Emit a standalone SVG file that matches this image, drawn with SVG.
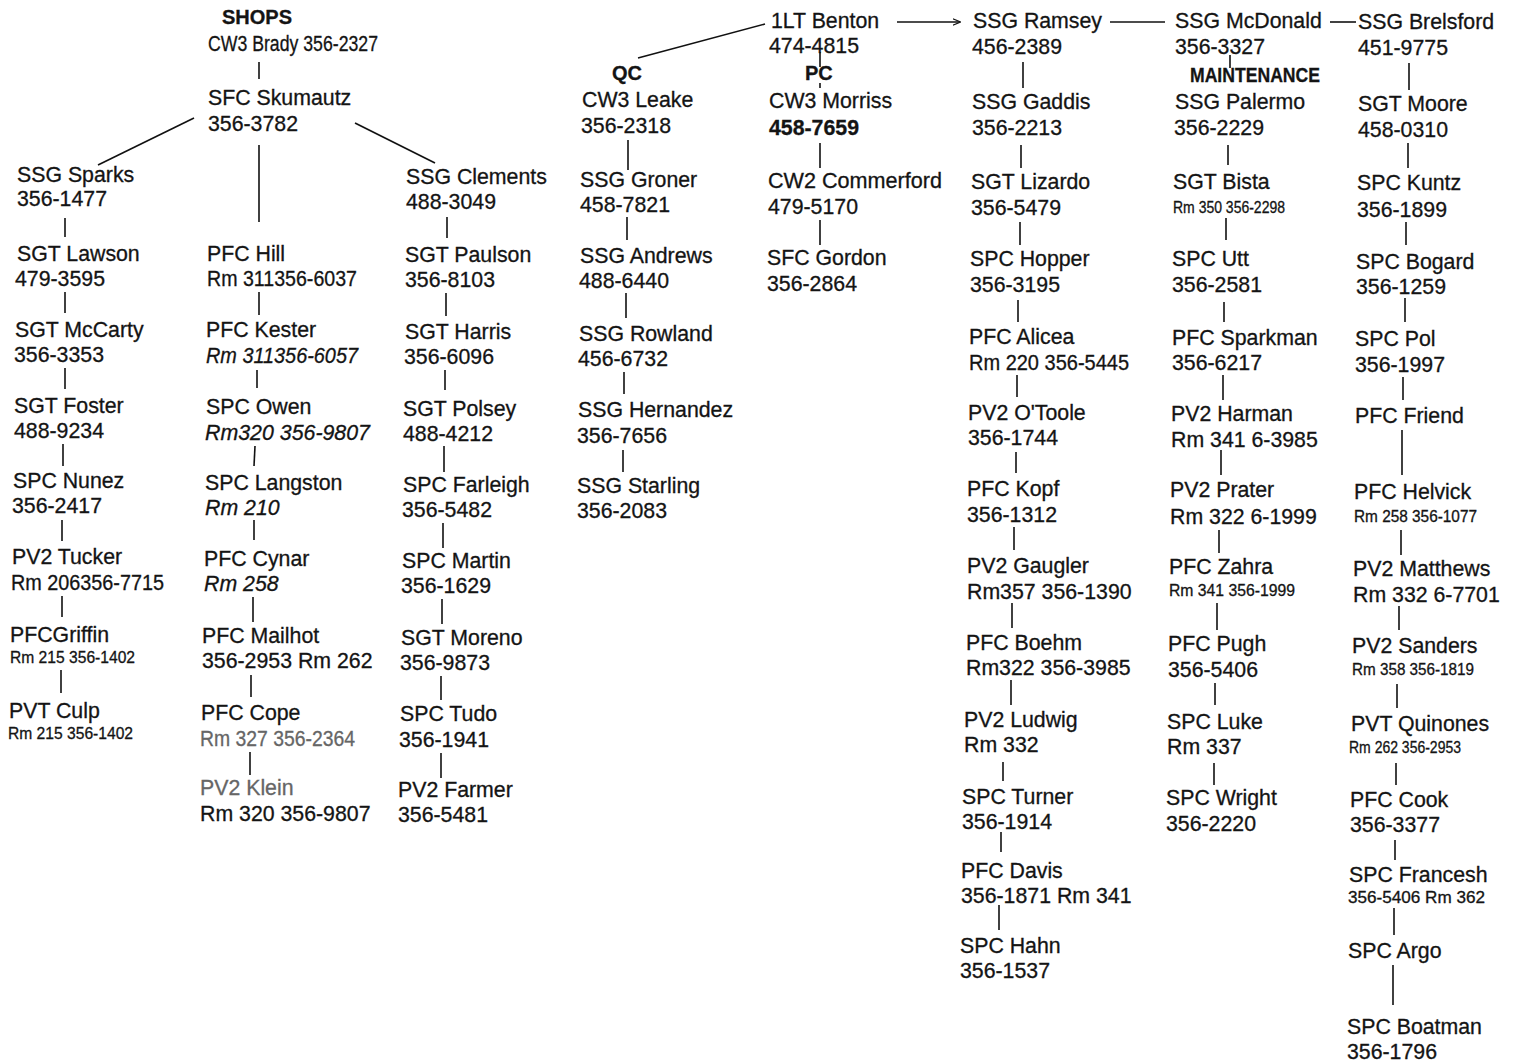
<svg xmlns="http://www.w3.org/2000/svg" width="1515" height="1063" viewBox="0 0 1515 1063">
<style>
text{font-family:"Liberation Sans",Arial,sans-serif;font-size:21.3px;fill:#141414;stroke:#141414;stroke-width:0.3}
.b{font-weight:bold;font-size:20px}
.i{font-style:italic}
.s{font-size:16px}
.g{fill:#666;stroke:#666}
.c line,.c path{stroke:#111;stroke-width:1.6;fill:none}
</style>
<defs>
<marker id="ah" viewBox="0 0 10 10" refX="9" refY="5" markerWidth="8" markerHeight="8" orient="auto" markerUnits="userSpaceOnUse">
<path d="M0,1 L10,5 L0,9" fill="none" stroke="#111" stroke-width="1.6"/>
</marker>
</defs>
<rect width="1515" height="1063" fill="#fff"/>
<g class="c" id="connectors">
<line x1="259" y1="62" x2="259" y2="79" stroke-width="2.4"/>
<line x1="194" y1="118" x2="98" y2="165"/>
<line x1="355" y1="123" x2="435" y2="163"/>
<line x1="259" y1="145" x2="259" y2="222"/>
<line x1="65" y1="218" x2="65" y2="237"/>
<line x1="65" y1="292" x2="65" y2="313"/>
<line x1="65" y1="368" x2="65" y2="389"/>
<line x1="63" y1="444" x2="63" y2="466"/>
<line x1="62" y1="520" x2="62" y2="541"/>
<line x1="62" y1="596" x2="62" y2="617"/>
<line x1="61" y1="670" x2="61" y2="693"/>
<line x1="259" y1="292" x2="259" y2="315"/>
<line x1="257" y1="370" x2="257" y2="388"/>
<line x1="255" y1="446" x2="254" y2="466"/>
<line x1="254" y1="520" x2="254" y2="540"/>
<line x1="253" y1="597" x2="253" y2="622"/>
<line x1="251" y1="675" x2="251" y2="697"/>
<line x1="250" y1="752" x2="250" y2="775"/>
<line x1="447" y1="217" x2="447" y2="238"/>
<line x1="446" y1="293" x2="446" y2="316"/>
<line x1="445" y1="370" x2="445" y2="390"/>
<line x1="444" y1="446" x2="444" y2="472"/>
<line x1="443" y1="523" x2="443" y2="548"/>
<line x1="442" y1="599" x2="442" y2="624"/>
<line x1="441" y1="676" x2="441" y2="700"/>
<line x1="441" y1="753" x2="441" y2="778"/>
<line x1="765" y1="24" x2="638" y2="58" stroke-width="2.2"/>
<line x1="628" y1="140" x2="628" y2="170"/>
<line x1="627" y1="217" x2="627" y2="240"/>
<line x1="626" y1="293" x2="626" y2="318"/>
<line x1="624" y1="372" x2="624" y2="394"/>
<line x1="623" y1="450" x2="623" y2="472"/>
<line x1="820" y1="52" x2="820" y2="67"/>
<line x1="820" y1="83" x2="820" y2="88"/>
<line x1="820" y1="143" x2="820" y2="168" stroke-width="2.2"/>
<line x1="820" y1="220" x2="820" y2="245"/>
<line x1="897" y1="22" x2="960" y2="22" marker-end="url(#ah)"/>
<line x1="1110" y1="22" x2="1165" y2="22"/>
<line x1="1330" y1="22" x2="1356" y2="22"/>
<line x1="1023" y1="62" x2="1023" y2="88"/>
<line x1="1021" y1="145" x2="1021" y2="168"/>
<line x1="1020" y1="222" x2="1020" y2="245"/>
<line x1="1018" y1="300" x2="1018" y2="322"/>
<line x1="1017" y1="375" x2="1017" y2="397"/>
<line x1="1016" y1="452" x2="1016" y2="473"/>
<line x1="1014" y1="527" x2="1014" y2="550"/>
<line x1="1012" y1="603" x2="1012" y2="628"/>
<line x1="1011" y1="680" x2="1011" y2="705"/>
<line x1="1003" y1="762" x2="1003" y2="781"/>
<line x1="1001" y1="832" x2="1001" y2="852"/>
<line x1="999" y1="905" x2="999" y2="930"/>
<line x1="1230" y1="55" x2="1230" y2="68"/>
<line x1="1228" y1="145" x2="1228" y2="165"/>
<line x1="1226" y1="218" x2="1226" y2="240"/>
<line x1="1224" y1="302" x2="1224" y2="322"/>
<line x1="1223" y1="375" x2="1223" y2="400"/>
<line x1="1221" y1="450" x2="1221" y2="475"/>
<line x1="1219" y1="530" x2="1219" y2="553"/>
<line x1="1217" y1="603" x2="1217" y2="630"/>
<line x1="1215" y1="683" x2="1215" y2="705"/>
<line x1="1214" y1="763" x2="1214" y2="785"/>
<line x1="1409" y1="63" x2="1409" y2="90"/>
<line x1="1408" y1="143" x2="1408" y2="168"/>
<line x1="1406" y1="222" x2="1406" y2="245"/>
<line x1="1405" y1="298" x2="1405" y2="322"/>
<line x1="1403" y1="377" x2="1403" y2="400"/>
<line x1="1402" y1="430" x2="1402" y2="475"/>
<line x1="1401" y1="530" x2="1401" y2="555"/>
<line x1="1399" y1="606" x2="1399" y2="630"/>
<line x1="1397" y1="684" x2="1397" y2="708"/>
<line x1="1396" y1="763" x2="1396" y2="785"/>
<line x1="1395" y1="840" x2="1395" y2="860"/>
<line x1="1394" y1="908" x2="1394" y2="935"/>
<line x1="1393" y1="965" x2="1393" y2="1005"/>
</g>
<g id="labels">
<text class="b" x="222" y="24">SHOPS</text>
<text class="b" x="612" y="80">QC</text>
<text class="b" x="805" y="80">PC</text>
<text class="b" x="1190" y="82" textLength="130" lengthAdjust="spacingAndGlyphs">MAINTENANCE</text>
</g>
<g id="n-brady"><text x="208" y="51" textLength="170" lengthAdjust="spacingAndGlyphs">CW3 Brady 356-2327</text></g>
<g id="n-skumautz"><text x="208" y="105">SFC Skumautz</text><text x="208" y="131">356-3782</text></g>
<g id="n-sparks"><text x="17" y="182">SSG Sparks</text><text x="17" y="206">356-1477</text></g>
<g id="n-lawson"><text x="17" y="261">SGT Lawson</text><text x="15" y="286">479-3595</text></g>
<g id="n-mccarty"><text x="15" y="337">SGT McCarty</text><text x="14" y="362">356-3353</text></g>
<g id="n-foster"><text x="14" y="413">SGT Foster</text><text x="14" y="438">488-9234</text></g>
<g id="n-nunez"><text x="13" y="488">SPC Nunez</text><text x="12" y="513">356-2417</text></g>
<g id="n-tucker"><text x="12" y="564">PV2 Tucker</text><text x="11" y="590" textLength="153" lengthAdjust="spacingAndGlyphs">Rm 206356-7715</text></g>
<g id="n-griffin"><text x="10" y="642">PFCGriffin</text><text class="s" x="10" y="663" textLength="125" lengthAdjust="spacingAndGlyphs">Rm 215 356-1402</text></g>
<g id="n-culp"><text x="9" y="718">PVT Culp</text><text class="s" x="8" y="739" textLength="125" lengthAdjust="spacingAndGlyphs">Rm 215 356-1402</text></g>
<g id="n-hill"><text x="207" y="261">PFC Hill</text><text x="207" y="286" textLength="150" lengthAdjust="spacingAndGlyphs">Rm 311356-6037</text></g>
<g id="n-kester"><text x="206" y="337">PFC Kester</text><text class="i" x="206" y="363" textLength="152" lengthAdjust="spacingAndGlyphs">Rm 311356-6057</text></g>
<g id="n-owen"><text x="206" y="414">SPC Owen</text><text class="i" x="205" y="440" textLength="165" lengthAdjust="spacingAndGlyphs">Rm320 356-9807</text></g>
<g id="n-langston"><text x="205" y="490">SPC Langston</text><text class="i" x="205" y="515">Rm 210</text></g>
<g id="n-cynar"><text x="204" y="566">PFC Cynar</text><text class="i" x="204" y="591">Rm 258</text></g>
<g id="n-mailhot"><text x="202" y="643">PFC Mailhot</text><text x="202" y="668">356-2953 Rm 262</text></g>
<g id="n-cope"><text x="201" y="720">PFC Cope</text><text class="g" x="200" y="746" textLength="155" lengthAdjust="spacingAndGlyphs">Rm 327 356-2364</text></g>
<g id="n-klein"><text class="g" x="200" y="795">PV2 Klein</text><text x="200" y="821">Rm 320 356-9807</text></g>
<g id="n-clements"><text x="406" y="184">SSG Clements</text><text x="406" y="209">488-3049</text></g>
<g id="n-paulson"><text x="405" y="262">SGT Paulson</text><text x="405" y="287">356-8103</text></g>
<g id="n-harris"><text x="405" y="339">SGT Harris</text><text x="404" y="364">356-6096</text></g>
<g id="n-polsey"><text x="403" y="416">SGT Polsey</text><text x="403" y="441">488-4212</text></g>
<g id="n-farleigh"><text x="403" y="492">SPC Farleigh</text><text x="402" y="517">356-5482</text></g>
<g id="n-martin"><text x="402" y="568">SPC Martin</text><text x="401" y="593">356-1629</text></g>
<g id="n-moreno"><text x="401" y="645">SGT Moreno</text><text x="400" y="670">356-9873</text></g>
<g id="n-tudo"><text x="400" y="721">SPC Tudo</text><text x="399" y="747">356-1941</text></g>
<g id="n-farmer"><text x="398" y="797">PV2 Farmer</text><text x="398" y="822">356-5481</text></g>
<g id="n-leake"><text x="582" y="107">CW3 Leake</text><text x="581" y="133">356-2318</text></g>
<g id="n-groner"><text x="580" y="187">SSG Groner</text><text x="580" y="212">458-7821</text></g>
<g id="n-andrews"><text x="580" y="263">SSG Andrews</text><text x="579" y="288">488-6440</text></g>
<g id="n-rowland"><text x="579" y="341">SSG Rowland</text><text x="578" y="366">456-6732</text></g>
<g id="n-hernandez"><text x="578" y="417">SSG Hernandez</text><text x="577" y="443">356-7656</text></g>
<g id="n-starling"><text x="577" y="493">SSG Starling</text><text x="577" y="518">356-2083</text></g>
<g id="n-benton"><text x="771" y="28">1LT Benton</text><text x="769" y="53">474-4815</text></g>
<g id="n-morriss"><text x="769" y="108">CW3 Morriss</text><text x="769" y="135" font-weight="bold" font-size="20">458-7659</text></g>
<g id="n-commerford"><text x="768" y="188" textLength="174" lengthAdjust="spacingAndGlyphs">CW2 Commerford</text><text x="768" y="214">479-5170</text></g>
<g id="n-gordon"><text x="767" y="265">SFC Gordon</text><text x="767" y="291">356-2864</text></g>
<g id="n-ramsey"><text x="973" y="28">SSG Ramsey</text><text x="972" y="54">456-2389</text></g>
<g id="n-gaddis"><text x="972" y="109">SSG Gaddis</text><text x="972" y="135">356-2213</text></g>
<g id="n-lizardo"><text x="971" y="189">SGT Lizardo</text><text x="971" y="215">356-5479</text></g>
<g id="n-hopper"><text x="970" y="266">SPC Hopper</text><text x="970" y="292">356-3195</text></g>
<g id="n-alicea"><text x="969" y="344">PFC Alicea</text><text x="969" y="370" textLength="160" lengthAdjust="spacingAndGlyphs">Rm 220 356-5445</text></g>
<g id="n-otoole"><text x="968" y="420">PV2 O'Toole</text><text x="968" y="445">356-1744</text></g>
<g id="n-kopf"><text x="967" y="496">PFC Kopf</text><text x="967" y="522">356-1312</text></g>
<g id="n-gaugler"><text x="967" y="573">PV2 Gaugler</text><text x="967" y="599">Rm357 356-1390</text></g>
<g id="n-boehm"><text x="966" y="650">PFC Boehm</text><text x="966" y="675">Rm322 356-3985</text></g>
<g id="n-ludwig"><text x="964" y="727">PV2 Ludwig</text><text x="964" y="752">Rm 332</text></g>
<g id="n-turner"><text x="962" y="804">SPC Turner</text><text x="962" y="829">356-1914</text></g>
<g id="n-davis"><text x="961" y="878">PFC Davis</text><text x="961" y="903">356-1871 Rm 341</text></g>
<g id="n-hahn"><text x="960" y="953">SPC Hahn</text><text x="960" y="978">356-1537</text></g>
<g id="n-mcdonald"><text x="1175" y="28">SSG McDonald</text><text x="1175" y="54">356-3327</text></g>
<g id="n-palermo"><text x="1175" y="109">SSG Palermo</text><text x="1174" y="135">356-2229</text></g>
<g id="n-bista"><text x="1173" y="189">SGT Bista</text><text class="s" x="1173" y="213" textLength="112" lengthAdjust="spacingAndGlyphs">Rm 350 356-2298</text></g>
<g id="n-utt"><text x="1172" y="266">SPC Utt</text><text x="1172" y="292">356-2581</text></g>
<g id="n-sparkman"><text x="1172" y="345">PFC Sparkman</text><text x="1172" y="370">356-6217</text></g>
<g id="n-harman"><text x="1171" y="421">PV2 Harman</text><text x="1171" y="447">Rm 341 6-3985</text></g>
<g id="n-prater"><text x="1170" y="497">PV2 Prater</text><text x="1170" y="524">Rm 322 6-1999</text></g>
<g id="n-zahra"><text x="1169" y="574">PFC Zahra</text><text class="s" x="1169" y="596" textLength="126" lengthAdjust="spacingAndGlyphs">Rm 341 356-1999</text></g>
<g id="n-pugh"><text x="1168" y="651">PFC Pugh</text><text x="1168" y="677">356-5406</text></g>
<g id="n-luke"><text x="1167" y="729">SPC Luke</text><text x="1167" y="754">Rm 337</text></g>
<g id="n-wright"><text x="1166" y="805">SPC Wright</text><text x="1166" y="831">356-2220</text></g>
<g id="n-brelsford"><text x="1358" y="29">SSG Brelsford</text><text x="1358" y="55">451-9775</text></g>
<g id="n-moore"><text x="1358" y="111">SGT Moore</text><text x="1358" y="137">458-0310</text></g>
<g id="n-kuntz"><text x="1357" y="190">SPC Kuntz</text><text x="1357" y="217">356-1899</text></g>
<g id="n-bogard"><text x="1356" y="269">SPC Bogard</text><text x="1356" y="294">356-1259</text></g>
<g id="n-pol"><text x="1355" y="346">SPC Pol</text><text x="1355" y="372">356-1997</text></g>
<g id="n-friend"><text x="1355" y="423">PFC Friend</text></g>
<g id="n-helvick"><text x="1354" y="499">PFC Helvick</text><text class="s" x="1354" y="522" textLength="123" lengthAdjust="spacingAndGlyphs">Rm 258 356-1077</text></g>
<g id="n-matthews"><text x="1353" y="576">PV2 Matthews</text><text x="1353" y="602">Rm 332 6-7701</text></g>
<g id="n-sanders"><text x="1352" y="653">PV2 Sanders</text><text class="s" x="1352" y="675" textLength="122" lengthAdjust="spacingAndGlyphs">Rm 358 356-1819</text></g>
<g id="n-quinones"><text x="1351" y="731">PVT Quinones</text><text class="s" x="1349" y="753" textLength="112" lengthAdjust="spacingAndGlyphs">Rm 262 356-2953</text></g>
<g id="n-cook"><text x="1350" y="807">PFC Cook</text><text x="1350" y="832">356-3377</text></g>
<g id="n-francesh"><text x="1349" y="882">SPC Francesh</text><text class="s" x="1348" y="903" textLength="137" lengthAdjust="spacingAndGlyphs">356-5406 Rm 362</text></g>
<g id="n-argo"><text x="1348" y="958">SPC Argo</text></g>
<g id="n-boatman"><text x="1347" y="1034">SPC Boatman</text><text x="1347" y="1059">356-1796</text></g>
</svg>
